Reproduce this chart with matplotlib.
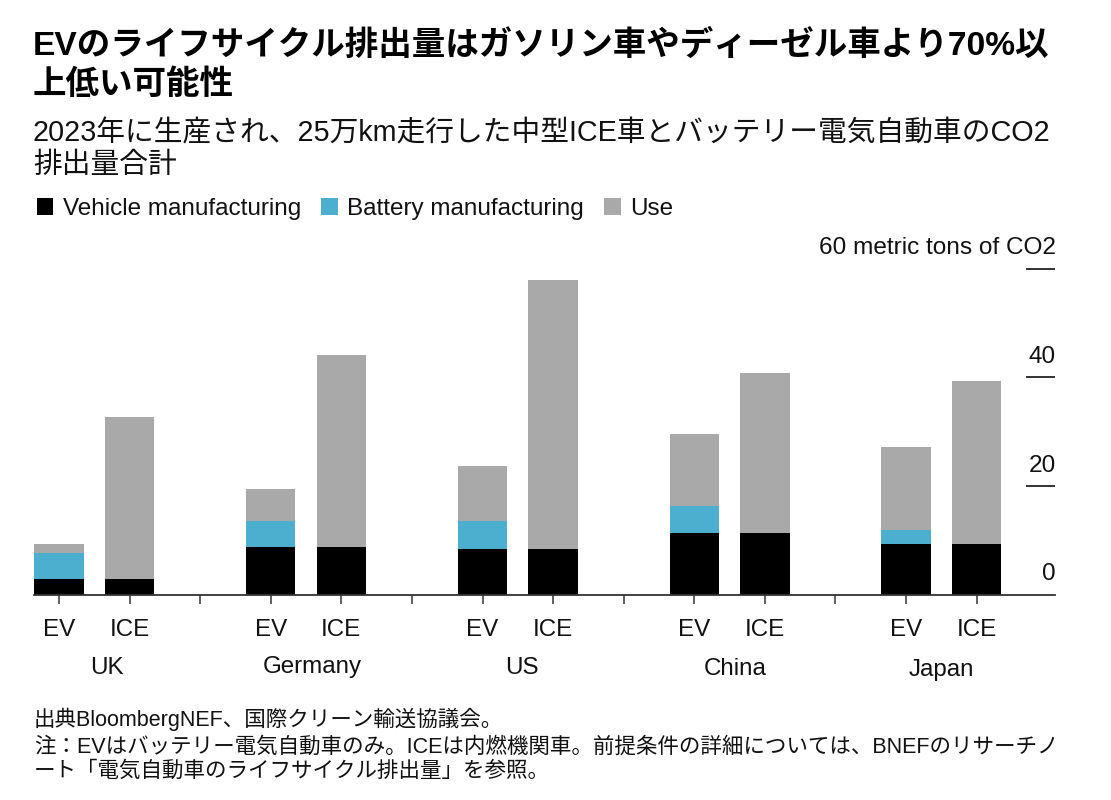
import matplotlib
matplotlib.use("Agg")
import matplotlib.pyplot as plt
import numpy as np

plt.rcParams['font.family'] = ['Liberation Sans', 'Noto Sans CJK JP', 'DejaVu Sans']

countries = ["UK", "Germany", "US", "China", "Japan"]
powertrains = ["EV", "ICE"]

# tons of CO2, order is EV, ICE per country
vehicle = [2.9, 2.9, 8.8, 8.8, 8.4, 8.4, 11.4, 11.4, 9.4, 9.4]
battery = [4.8, 0, 4.8, 0, 5.2, 0, 5.0, 0, 2.5, 0]
use = [1.7, 29.8, 5.9, 35.3, 10.1, 49.5, 13.2, 29.4, 15.3, 29.9]

y_ticks = [0, 20, 40, 60]
y_labels = ["0", "20", "40", "60 metric tons of CO2"]

title = ["EVのライフサイクル排出量はガソリン車やディーゼル車より70%以", "上低い可能性"]
subtitle = ["2023年に生産され、25万km走行した中型ICE車とバッテリー電気自動車のCO2", "排出量合計"]
footer = [
    "出典BloombergNEF、国際クリーン輸送協議会。",
    "注：EVはバッテリー電気自動車のみ。ICEは内燃機関車。前提条件の詳細については、BNEFのリサーチノ",
    "ート「電気自動車のライフサイクル排出量」を参照。",
]

W, H = 1111, 800
BLACK, BLUE, GRAY = "#000000", "#4dafd0", "#a9a9a9"


def put_text(x, y, s, **kw):
    # x, y in pixels from the top left of the image
    kw.setdefault("va", "center")
    kw.setdefault("color", "#111111")
    return fig.text(x / W, 1 - y / H, s, **kw)


fig = plt.figure(figsize=(W / 100, H / 100), dpi=100, facecolor="white")
ax = fig.add_axes([34 / W, 1 - 595 / H, (1055 - 34) / W, (595 - 268.5) / H])

# every third slot stays empty between the countries
x = np.array([g * 3 + p for g in range(len(countries)) for p in range(len(powertrains))])
vehicle_a, battery_a, use_a = np.array(vehicle), np.array(battery), np.array(use)
bar_w = 0.7
ax.bar(x, vehicle_a, width=bar_w, color=BLACK, label="Vehicle manufacturing")
ax.bar(x, battery_a, width=bar_w, bottom=vehicle_a, color=BLUE, label="Battery manufacturing")
ax.bar(x, use_a, width=bar_w, bottom=vehicle_a + battery_a, color=GRAY, label="Use")

ax.set_xlim(-0.354, 14.11)
ax.set_ylim(0, 60)
for side in ["top", "left", "right"]:
    ax.spines[side].set_visible(False)
ax.spines["bottom"].set_color("#333333")
ax.spines["bottom"].set_linewidth(1.3)

slots = np.arange(14)
ax.set_xticks(slots)
ax.set_xticklabels([powertrains[s % 3] if s % 3 < 2 else "" for s in slots], fontsize=17.4, color="#111111")
ax.tick_params(axis="x", length=6.5, width=1.1, color="#333333", pad=10.5)

ax.yaxis.tick_right()
ax.set_yticks(y_ticks[1:])
ax.set_yticklabels([])
ax.tick_params(axis="y", direction="in", length=21, width=1.2, color="#111111")
for v, lab in zip(y_ticks, y_labels):
    ax.annotate(lab, xy=(1, v), xycoords=("axes fraction", "data"), xytext=(0.7, 10.5),
                textcoords="offset points", ha="right", va="baseline", fontsize=17.6, color="#111111")

for name, cx, cy in zip(countries, [107, 312, 522, 735, 941], [668, 667, 668, 669, 670]):
    put_text(cx, cy, name, ha="center", fontsize=17.4)

put_text(33, 46, title[0], fontsize=24.15, fontweight="bold", color="#000000")
put_text(33, 85, title[1], fontsize=24.15, fontweight="bold", color="#000000")
put_text(33, 133, subtitle[0], fontsize=20.7)
put_text(33, 165, subtitle[1], fontsize=20.7)
for yy, line in zip([719, 747, 771], footer):
    put_text(34, yy, line, fontsize=15.5)

fig.legend(loc="center left", bbox_to_anchor=(37 / W, 1 - 209 / H), ncol=3, frameon=False,
           fontsize=17.5, handlelength=0.67, handleheight=0.67, handletextpad=0.38,
           columnspacing=0.85, labelcolor="#111111", borderaxespad=0, borderpad=0)

fig.savefig("out.png", dpi=100, facecolor="white")
